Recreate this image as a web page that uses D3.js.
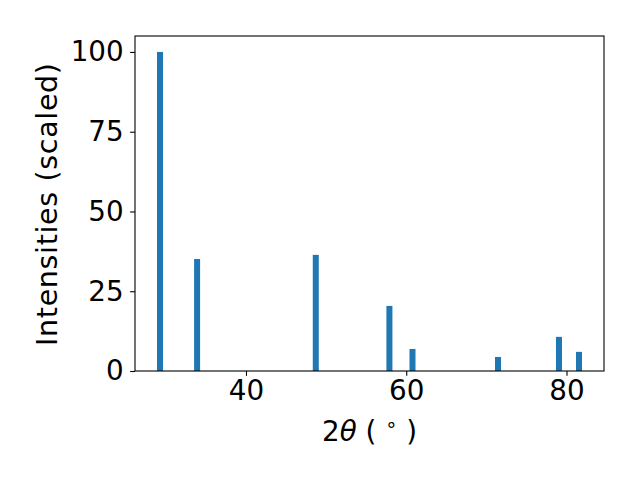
<!DOCTYPE html>
<html><head><meta charset="utf-8">
<script src="https://cdn.jsdelivr.net/npm/d3@7"></script>
<style>body{margin:0;background:#fff}svg{display:block}text{font-family:"DejaVu Sans",sans-serif;fill:#000}</style>
</head><body>
<script>
const positions = [29.27, 33.9, 48.71, 57.9, 60.78, 71.45, 79.06, 81.56];
const intensities = [100, 35.1, 36.4, 20.4, 6.9, 4.4, 10.7, 6.0];
const xTicks = [40, 60, 80];
const yTicks = [0, 25, 50, 75, 100];
const barWidth = 0.75;

const W = 640, H = 480;
const m = {left: 135, right: 604, top: 36, bottom: 371};
const svg = d3.select("body").append("svg").attr("width", W).attr("height", H);

const x = d3.scaleLinear().domain([26.15, 84.68]).range([m.left, m.right]);
const y = d3.scaleLinear().domain([0, 105]).range([m.bottom, m.top]);

svg.append("g").selectAll("rect").data(positions).join("rect")
  .attr("x", (d) => x(d - barWidth / 2))
  .attr("width", (d) => x(d + barWidth / 2) - x(d - barWidth / 2))
  .attr("y", (d, i) => y(intensities[i]))
  .attr("height", (d, i) => y(0) - y(intensities[i]))
  .attr("fill", "#1f77b4");

const fs = 27.78;
const xAxis = svg.append("g").attr("transform", `translate(0,${m.bottom})`)
  .call(d3.axisBottom(x).tickValues(xTicks).tickSize(4.86).tickPadding(4.86).tickFormat(d3.format("d")));
const yAxis = svg.append("g").attr("transform", `translate(${m.left},0)`)
  .call(d3.axisLeft(y).tickValues(yTicks).tickSize(4.86).tickPadding(6.5).tickFormat(d3.format("d")));
[xAxis, yAxis].forEach(g => {
  g.select(".domain").remove();
  g.selectAll(".tick line").attr("stroke", "#000").attr("stroke-width", 1.1);
  g.selectAll(".tick text").attr("font-size", fs).attr("font-family", "DejaVu Sans").attr("fill", "#000");
});

svg.append("rect").attr("x", m.left).attr("y", m.top)
  .attr("width", m.right - m.left).attr("height", m.bottom - m.top)
  .attr("fill", "none").attr("stroke", "#000").attr("stroke-width", 1.1);

const xl = svg.append("text").attr("x", (m.left + m.right) / 2).attr("y", 441)
  .attr("text-anchor", "middle").attr("font-size", fs);
xl.append("tspan").text("2");
xl.append("tspan").attr("font-style", "italic").text("θ");
xl.append("tspan").text(" ( ");
xl.append("tspan").attr("font-size", fs * 0.7).attr("dy", -10).text("∘");
xl.append("tspan").attr("dy", 10).text(" )");

svg.append("text").attr("transform", `translate(57,${(m.top + m.bottom) / 2 + 1}) rotate(-90)`)
  .attr("text-anchor", "middle").attr("font-size", 28.5)
  .attr("textLength", 283).attr("lengthAdjust", "spacing")
  .text("Intensities (scaled)");
</script>
</body></html>
